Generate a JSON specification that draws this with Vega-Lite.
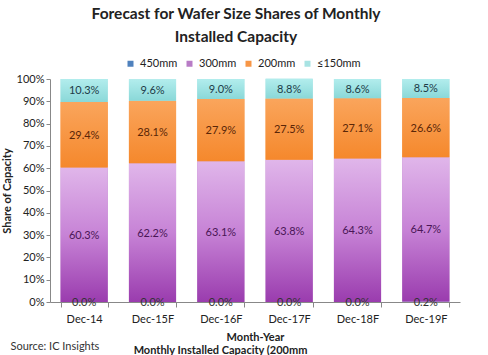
{
  "$schema": "https://vega.github.io/schema/vega-lite/v6.json",
  "width": 410,
  "height": 223,
  "autosize": {"type": "none"},
  "padding": {"left": 50, "top": 79, "right": 28, "bottom": 53},
  "background": "white",
  "config": {"font": "Lato", "view": {"stroke": null}},
  "title": {
    "text": ["Forecast for Wafer Size Shares of Monthly", "Installed Capacity"],
    "fontSize": 15.5,
    "font": "Lato",
    "fontWeight": "bold",
    "color": "#222222",
    "lineHeight": 23,
    "anchor": "middle",
    "dx": -19,
    "offset": 13
  },
  "data": {
    "values": [
      {"period": "Dec-14", "series": "450mm", "value": 0.0},
      {"period": "Dec-14", "series": "300mm", "value": 60.3},
      {"period": "Dec-14", "series": "200mm", "value": 29.4},
      {"period": "Dec-14", "series": "≤150mm", "value": 10.3},
      {"period": "Dec-15F", "series": "450mm", "value": 0.0},
      {"period": "Dec-15F", "series": "300mm", "value": 62.2},
      {"period": "Dec-15F", "series": "200mm", "value": 28.1},
      {"period": "Dec-15F", "series": "≤150mm", "value": 9.6},
      {"period": "Dec-16F", "series": "450mm", "value": 0.0},
      {"period": "Dec-16F", "series": "300mm", "value": 63.1},
      {"period": "Dec-16F", "series": "200mm", "value": 27.9},
      {"period": "Dec-16F", "series": "≤150mm", "value": 9.0},
      {"period": "Dec-17F", "series": "450mm", "value": 0.0},
      {"period": "Dec-17F", "series": "300mm", "value": 63.8},
      {"period": "Dec-17F", "series": "200mm", "value": 27.5},
      {"period": "Dec-17F", "series": "≤150mm", "value": 8.8},
      {"period": "Dec-18F", "series": "450mm", "value": 0.0},
      {"period": "Dec-18F", "series": "300mm", "value": 64.3},
      {"period": "Dec-18F", "series": "200mm", "value": 27.1},
      {"period": "Dec-18F", "series": "≤150mm", "value": 8.6},
      {"period": "Dec-19F", "series": "450mm", "value": 0.2},
      {"period": "Dec-19F", "series": "300mm", "value": 64.7},
      {"period": "Dec-19F", "series": "200mm", "value": 26.6},
      {"period": "Dec-19F", "series": "≤150mm", "value": 8.5}
    ]
  },
  "transform": [
    {"calculate": "indexof(['450mm','300mm','200mm','≤150mm'], datum.series)", "as": "ord"},
    {"stack": "value", "groupby": ["period"], "sort": [{"field": "ord", "order": "ascending"}], "as": ["y0", "y1"]},
    {"calculate": "(datum.y0 + datum.y1) / 2", "as": "mid"},
    {"calculate": "format(datum.value, '.1f') + '%'", "as": "label"}
  ],
  "layer": [
    {
      "mark": {"type": "bar"},
      "encoding": {
        "x": {
          "field": "period", "type": "nominal",
          "sort": ["Dec-14", "Dec-15F", "Dec-16F", "Dec-17F", "Dec-18F", "Dec-19F"],
          "scale": {"paddingInner": 0.31, "paddingOuter": 0.155},
          "axis": {
            "title": "Month-Year", "labelAngle": 0, "labelFontSize": 11, "labelColor": "#222222",
            "tickBand": "extent", "tickSize": 5, "tickColor": "#888888", "domainColor": "#888888",
            "labelPadding": 6, "titleFontSize": 11, "titleFontWeight": "bold", "titlePadding": 7, "titleColor": "#222222"
          }
        },
        "y": {
          "field": "y0", "type": "quantitative",
          "scale": {"domain": [0, 100], "nice": false},
          "axis": {
            "title": "Share of Capacity", "values": [0, 10, 20, 30, 40, 50, 60, 70, 80, 90, 100],
            "labelExpr": "datum.value + '%'", "grid": false, "labelFontSize": 11, "labelColor": "#222222",
            "tickSize": 4, "tickColor": "#888888", "domainColor": "#888888",
            "titleFontSize": 11, "titleFontWeight": "bold", "titleColor": "#222222", "titlePadding": 4
          }
        },
        "y2": {"field": "y1"},
        "color": {
          "field": "series", "type": "nominal",
          "scale": {"domain": ["450mm", "300mm", "200mm", "≤150mm"], "range": ["#4f81bd", "#b87cc6", "#f79646", "#a8e3e3"]},
          "legend": {
            "orient": "none", "direction": "horizontal", "title": null, "legendX": 75, "legendY": -21,
            "symbolType": "square", "symbolSize": 36, "labelFontSize": 11, "labelColor": "#222222",
            "columnPadding": 6, "labelOffset": 4
          }
        }
      }
    },
    {
      "transform": [{"filter": "datum.series === '300mm'"}],
      "mark": {"type": "bar", "color": {"gradient": "linear", "x1": 0, "y1": 0, "x2": 0, "y2": 1,
        "stops": [{"offset": 0, "color": "#e0b6ea"}, {"offset": 0.5, "color": "#c783d6"}, {"offset": 1, "color": "#9a3cae"}]}},
      "encoding": {
        "x": {"field": "period", "type": "nominal", "sort": ["Dec-14", "Dec-15F", "Dec-16F", "Dec-17F", "Dec-18F", "Dec-19F"], "axis": null},
        "y": {"field": "y0", "type": "quantitative", "axis": null},
        "y2": {"field": "y1"}
      }
    },
    {
      "transform": [{"filter": "datum.series === '200mm'"}],
      "mark": {"type": "bar", "color": {"gradient": "linear", "x1": 0, "y1": 0, "x2": 0, "y2": 1,
        "stops": [{"offset": 0, "color": "#faa55c"}, {"offset": 1, "color": "#f5882c"}]}},
      "encoding": {
        "x": {"field": "period", "type": "nominal", "sort": ["Dec-14", "Dec-15F", "Dec-16F", "Dec-17F", "Dec-18F", "Dec-19F"], "axis": null},
        "y": {"field": "y0", "type": "quantitative", "axis": null},
        "y2": {"field": "y1"}
      }
    },
    {
      "transform": [{"filter": "datum.series === '≤150mm'"}],
      "mark": {"type": "bar", "color": {"gradient": "linear", "x1": 0, "y1": 0, "x2": 0, "y2": 1,
        "stops": [{"offset": 0, "color": "#b2eded"}, {"offset": 1, "color": "#8ad8d8"}]}},
      "encoding": {
        "x": {"field": "period", "type": "nominal", "sort": ["Dec-14", "Dec-15F", "Dec-16F", "Dec-17F", "Dec-18F", "Dec-19F"], "axis": null},
        "y": {"field": "y0", "type": "quantitative", "axis": null},
        "y2": {"field": "y1"}
      }
    },
    {
      "mark": {"type": "text", "fontSize": 11, "baseline": "middle", "dy": 1},
      "encoding": {
        "x": {
          "field": "period", "type": "nominal",
          "sort": ["Dec-14", "Dec-15F", "Dec-16F", "Dec-17F", "Dec-18F", "Dec-19F"],
          "axis": {
            "orient": "bottom", "title": "Monthly Installed Capacity (200mm", "labels": false, "ticks": false, "domain": false,
            "titleX": 170, "titleY": 48, "titleAlign": "center", "titleBaseline": "middle",
            "titleFontSize": 11, "titleFontWeight": "bold", "titleColor": "#222222"
          }
        },
        "y": {
          "field": "mid", "type": "quantitative",
          "axis": {
            "orient": "left", "title": "Source:  IC Insights", "labels": false, "ticks": false, "domain": false, "grid": false,
            "titleAngle": 0, "titleX": -40, "titleY": 267, "titleAlign": "left", "titleBaseline": "middle",
            "titleFontSize": 11, "titleFontWeight": "normal", "titleColor": "#333333"
          }
        },
        "text": {"field": "label"},
        "color": {
          "condition": [
            {"test": "datum.series === '200mm'", "value": "#5a2608"},
            {"test": "datum.series === '300mm'", "value": "#4a1656"},
            {"test": "datum.series === '≤150mm'", "value": "#1d3c48"}
          ],
          "value": "#333333"
        }
      }
    }
  ],
  "resolve": {"axis": {"x": "independent", "y": "independent"}}
}
